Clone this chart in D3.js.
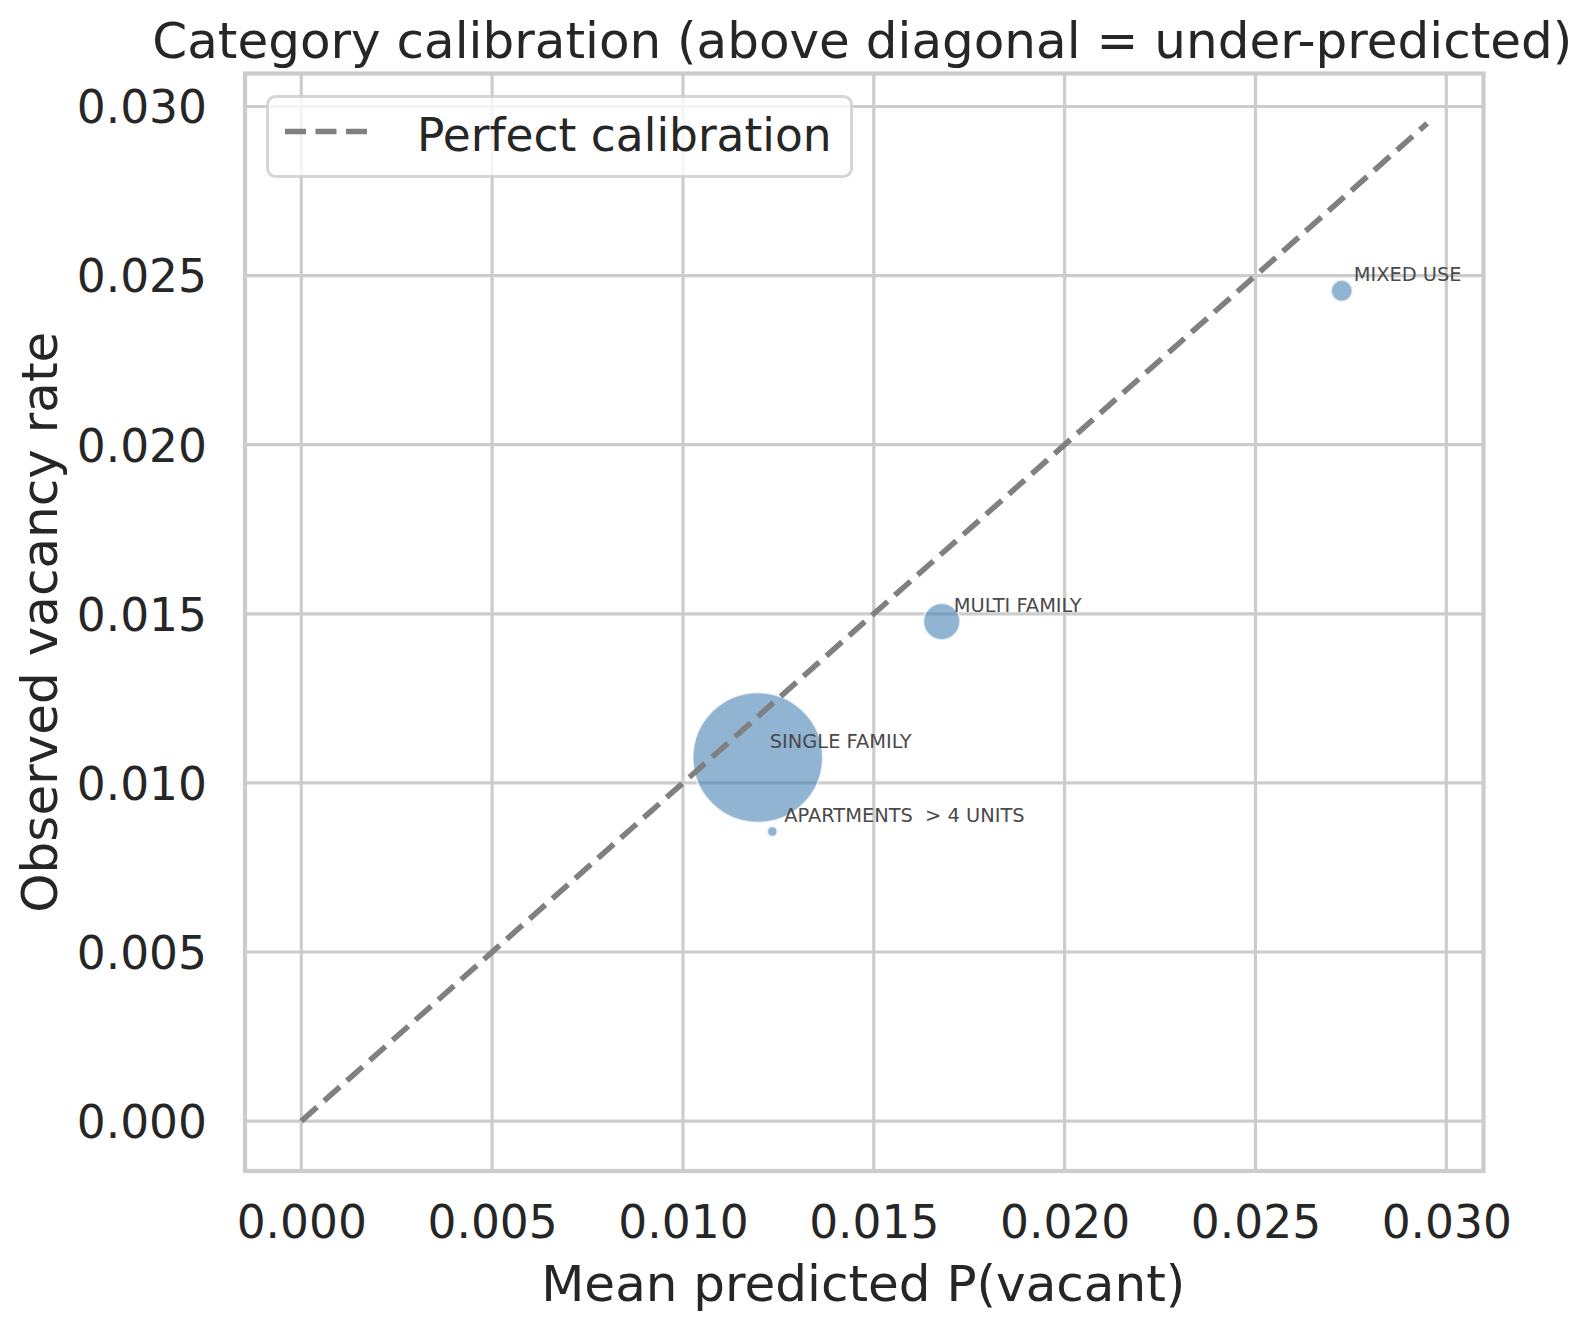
<!DOCTYPE html>
<html>
<head>
<meta charset="utf-8">
<script src="https://cdn.jsdelivr.net/npm/d3@7"></script>
<style>
  html, body { margin: 0; padding: 0; background: #fff; }
  svg { display: block; font-family: "DejaVu Sans", sans-serif; }
</style>
</head>
<body>
<svg id="chart" width="1593" height="1330"></svg>
<script>
// ---- data ----
const categories = ["SINGLE FAMILY", "MULTI FAMILY", "MIXED USE", "APARTMENTS  > 4 UNITS"];
const meanPredicted = [0.01196, 0.01678, 0.02726, 0.01234];
const observedRate = [0.01075, 0.01477, 0.02455, 0.00856];
const parcelCounts = [42250, 3350, 1145, 250];
const tickValues = [0.000, 0.005, 0.010, 0.015, 0.020, 0.025, 0.030];
const diagonalEnd = 0.0295;
const titleText = "Category calibration (above diagonal = under-predicted)";
const xLabel = "Mean predicted P(vacant)";
const yLabel = "Observed vacancy rate";
const legendLabel = "Perfect calibration";

// ---- layout ----
const W = 1593, H = 1330;
const L = 245, R = 1483.5, T = 73.5, B = 1171;
const textColor = "#262626";
const gridColor = "#cccccc";

const svg = d3.select("#chart");
svg.append("rect").attr("width", W).attr("height", H).attr("fill", "#fff");

const lo = -0.05 * diagonalEnd, hi = diagonalEnd * 1.05;
const x = d3.scaleLinear().domain([lo, hi]).range([L, R]);
const y = d3.scaleLinear().domain([lo, hi]).range([B, T]);
const r = d3.scaleSqrt().domain([0, d3.max(parcelCounts)]).range([0, 65]);

const data = categories.map((c, i) => ({
  name: c, px: meanPredicted[i], oy: observedRate[i], n: parcelCounts[i]
}));

// grid
const grid = svg.append("g");
grid.selectAll("line.gx").data(tickValues).join("line")
  .attr("x1", d => x(d)).attr("x2", d => x(d))
  .attr("y1", T).attr("y2", B)
  .attr("stroke", gridColor).attr("stroke-width", 3.2);
grid.selectAll("line.gy").data(tickValues).join("line")
  .attr("y1", d => y(d)).attr("y2", d => y(d))
  .attr("x1", L).attr("x2", R)
  .attr("stroke", gridColor).attr("stroke-width", 3.2);

// axes (tick labels via d3 axes)
const fmt = d3.format(".3f");
const xAxis = svg.append("g").attr("transform", `translate(0,${B})`)
  .call(d3.axisBottom(x).tickValues(tickValues).tickFormat(fmt).tickSize(0).tickPadding(35));
const yAxis = svg.append("g").attr("transform", `translate(${L},0)`)
  .call(d3.axisLeft(y).tickValues(tickValues).tickFormat(fmt).tickSize(0).tickPadding(38));
[xAxis, yAxis].forEach(a => {
  a.select(".domain").remove();
  a.selectAll("text").attr("fill", textColor).style("font-size", "45.5px")
    .style("font-family", "DejaVu Sans");
});
xAxis.selectAll("text").attr("dy", "0.71em");
yAxis.selectAll("text").attr("dy", "0.36em");

// spines
svg.append("rect").attr("x", L).attr("y", T).attr("width", R - L).attr("height", B - T)
  .attr("fill", "none").attr("stroke", gridColor).attr("stroke-width", 4.2);

// bubbles
svg.append("g").selectAll("circle").data(data).join("circle")
  .attr("cx", d => x(d.px)).attr("cy", d => y(d.oy)).attr("r", d => r(d.n))
  .attr("fill", "steelblue").attr("fill-opacity", 0.6)
  .attr("stroke", "#fff").attr("stroke-opacity", 0.6).attr("stroke-width", 2);

// diagonal
svg.append("line")
  .attr("x1", x(0)).attr("y1", y(0)).attr("x2", x(diagonalEnd)).attr("y2", y(diagonalEnd))
  .attr("stroke", "#808080").attr("stroke-width", 5.6)
  .attr("stroke-dasharray", "21 9.5");

// annotations
svg.append("g").selectAll("text").data(data).join("text")
  .attr("x", d => x(d.px) + 12).attr("y", d => y(d.oy) - 10)
  .attr("fill", "#4a4a4a").style("font-size", "19.4px")
  .style("white-space", "pre").attr("xml:space", "preserve")
  .text(d => d.name);

// title and labels
svg.append("text").attr("x", (L + R) / 2 - 2).attr("y", 57.5).attr("text-anchor", "middle")
  .attr("fill", textColor).style("font-size", "50px").text(titleText);
svg.append("text").attr("x", (L + R) / 2 - 1).attr("y", 1301).attr("text-anchor", "middle")
  .attr("fill", textColor).style("font-size", "50px").text(xLabel);
svg.append("text").attr("transform", `translate(57,${(T + B) / 2}) rotate(-90)`)
  .attr("text-anchor", "middle")
  .attr("fill", textColor).style("font-size", "50px").text(yLabel);

// legend
const lg = svg.append("g");
lg.append("rect").attr("x", 267.5).attr("y", 96.5).attr("width", 584).attr("height", 80)
  .attr("rx", 8).attr("fill", "#fff").attr("fill-opacity", 0.8)
  .attr("stroke", gridColor).attr("stroke-opacity", 0.8).attr("stroke-width", 3);
lg.append("line").attr("x1", 285).attr("x2", 374).attr("y1", 131.5).attr("y2", 131.5)
  .attr("stroke", "#808080").attr("stroke-width", 5.6).attr("stroke-dasharray", "21 9.5");
lg.append("text").attr("x", 417).attr("y", 150.5).attr("fill", textColor)
  .style("font-size", "45.5px").text(legendLabel);
</script>
</body>
</html>
